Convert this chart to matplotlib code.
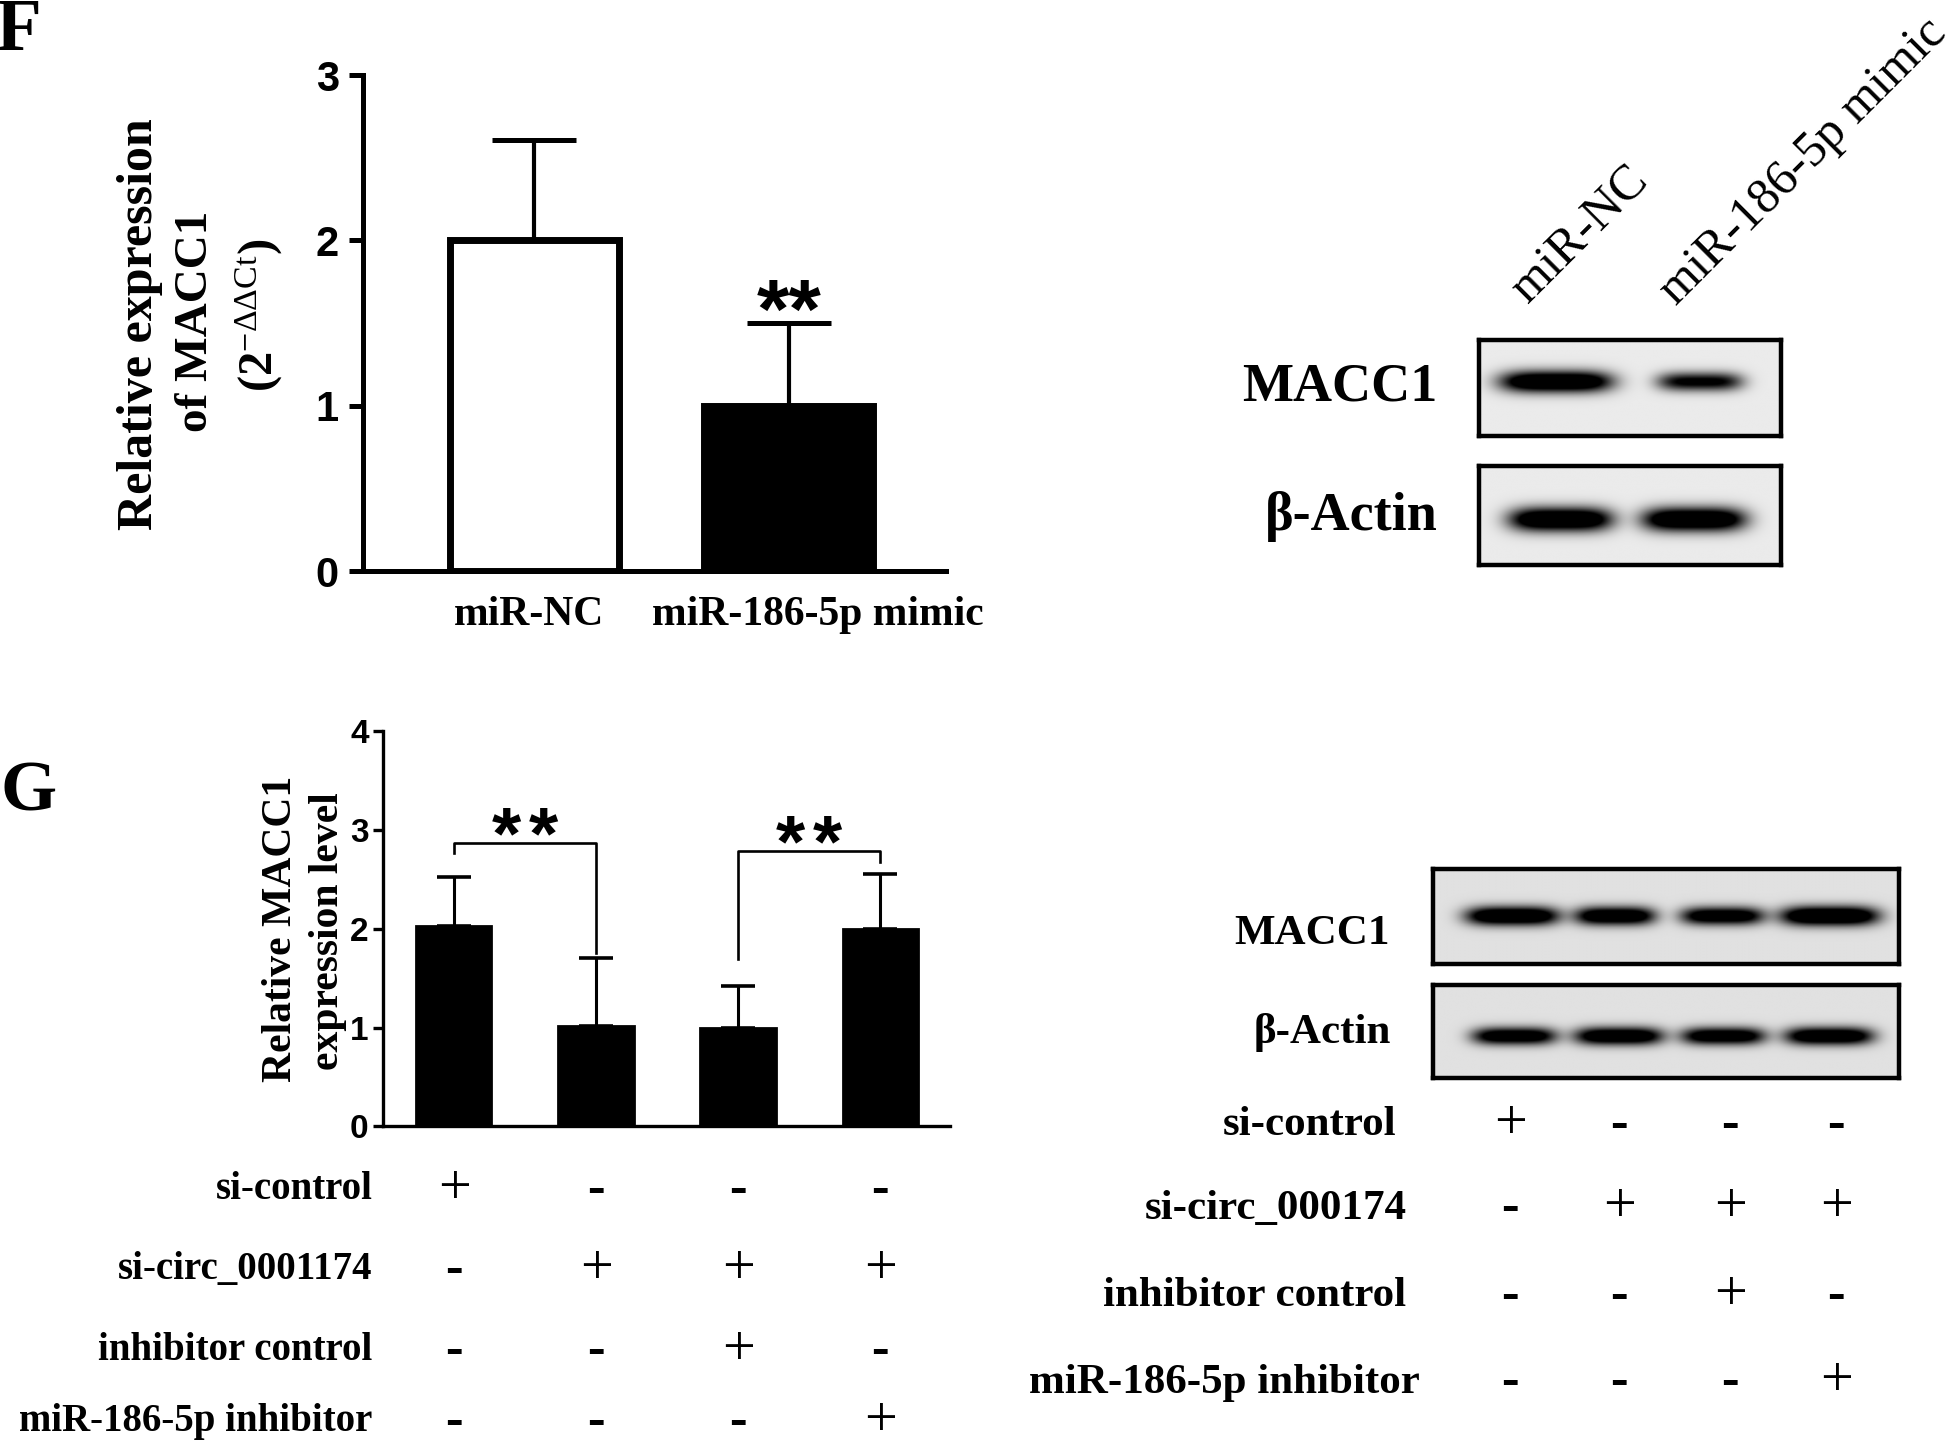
import numpy as np
import matplotlib
matplotlib.use('Agg')
import matplotlib.pyplot as plt
import matplotlib.transforms as mtransforms

plt.rcParams['font.family'] = ['Liberation Serif', 'DejaVu Serif']
plt.rcParams['mathtext.fontset'] = 'custom'
plt.rcParams['mathtext.rm'] = 'Liberation Serif'
plt.rcParams['mathtext.it'] = 'Liberation Serif:italic'
plt.rcParams['mathtext.bf'] = 'Liberation Serif:bold'

# ---- panel F: qPCR ----
f_groups = ['miR-NC', 'miR-186-5p mimic']
f_means = [2.0, 1.0]
f_errs = [0.61, 0.50]
f_fill = ['white', 'black']

# ---- panel G: qPCR ----
g_means = [2.03, 1.02, 1.00, 2.00]
g_errs = [0.50, 0.69, 0.42, 0.56]
# brackets: (left bar, right bar, top, left end, right end)
g_brackets = [(1, 2, 2.87, 2.77, 1.76), (3, 4, 2.79, 1.70, 2.68)]

g_rows = ['si-control', 'si-circ_0001174', 'inhibitor control', 'miR-186-5p inhibitor']
wb_rows = ['si-control', 'si-circ_000174', 'inhibitor control', 'miR-186-5p inhibitor']
g_signs = [[1, 0, 0, 0],
           [0, 1, 1, 1],
           [0, 0, 1, 0],
           [0, 0, 0, 1]]

# ---- western blot band densities ----
f_lanes = ['miR-NC', 'miR-186-5p mimic']
f_macc1 = [1.0, 0.72]
f_actin = [1.0, 1.0]
g_macc1 = [0.95, 0.9, 0.85, 1.0]
g_actin = [0.85, 0.9, 0.85, 0.9]

W, H = 1568.0, 1155.0   # layout grid (reference shrunk size)

fig = plt.figure(figsize=(19.6, 14.44), dpi=100)


def box(x0, y0, x1, y1):
    return [x0 / W, 1 - y1 / H, (x1 - x0) / W, (y1 - y0) / H]


def put(x, y, s, **kw):
    return fig.text(x / W, 1 - y / H, s, **kw)


def blot(rect, cx, hw, dens, cy, th, bg=0.88):
    ax = fig.add_axes(rect)
    yy, xx = np.mgrid[0:1:160j, 0:1:600j]
    img = np.full(xx.shape, bg)
    for c, w, d in zip(cx, hw, dens):
        t = th * (0.55 + 0.45 * d)
        img -= 1.4 * d * np.exp(-np.abs((xx - c) / w) ** 4) * np.exp(-((yy - cy) / t) ** 2)
    ax.imshow(np.clip(img, 0, 1), cmap='gray', vmin=0, vmax=1, aspect='auto',
              extent=[0, 1, 1, 0], interpolation='bilinear')
    ax.set_xticks([])
    ax.set_yticks([])
    for s in ax.spines.values():
        s.set_linewidth(3.2)
    return ax


def sign(x, y, on, **kw):
    # mathtext boxes hug the glyph, so both signs centre on the row
    if on:
        return fig.text(x, y, r'$+$', ha='center', va='center', fontsize=42, **kw)
    return fig.text(x, y, '$\\mathbf{\u2010}$', ha='center', va='center', fontsize=38, **kw)


sans = dict(family=['Liberation Sans', 'DejaVu Sans'], weight='bold')

# ================= F bar chart =================
axf = fig.add_axes(box(290, 60, 757, 457))
xf = np.arange(1, len(f_means) + 1)
axf.bar(xf, f_means, width=0.665, color=f_fill, edgecolor='black', linewidth=5, zorder=3)
axf.errorbar(xf, f_means, yerr=[[0] * len(f_errs), f_errs], fmt='none', ecolor='black',
             elinewidth=3, capsize=30, capthick=3.6, zorder=2)
axf.set_xlim(0.324, 2.619)
axf.set_ylim(0, 3)
axf.set_yticks([0, 1, 2, 3])
axf.set_xticks([])
for s in ['top', 'right']:
    axf.spines[s].set_visible(False)
for s in ['left', 'bottom']:
    axf.spines[s].set_linewidth(3.6)
axf.tick_params(axis='y', length=10, width=3.6, pad=7, labelsize=30)
for t in axf.get_yticklabels():
    t.set_fontfamily(sans['family'])
    t.set_fontweight('bold')
axf.text(2, 1.41, '**', ha='center', va='baseline', fontsize=60, **sans)

for x, lab in zip([423, 654], f_groups):
    put(x, 492, lab, ha='center', va='center', fontsize=30, weight='bold')

put(-3, 40, 'F', fontsize=54, weight='bold', ha='left', va='baseline')
put(112, 259, 'Relative expression', rotation=90, ha='center', va='center',
    fontsize=36, weight='bold')
put(157, 257, 'of MACC1', rotation=90, ha='center', va='center', fontsize=34, weight='bold')
put(207, 252, r'(2$^{\mathrm{-ΔΔCt}}$)', rotation=90, ha='center', va='center', fontsize=35,
    weight='bold')

# F western blot
blot(box(1183, 272, 1425, 349), [0.255, 0.73], [0.185, 0.14], f_macc1, 0.44, 0.11, bg=0.92)
blot(box(1183, 373, 1425, 452), [0.27, 0.71], [0.17, 0.17], f_actin, 0.54, 0.12, bg=0.92)
put(1150, 320, 'MACC1', ha='right', va='baseline', fontsize=39, weight='bold')
put(1150, 424, 'β-Actin', ha='right', va='baseline', fontsize=39, weight='bold')
for (x0, y0), lab in zip([(1222, 243), (1341, 245)], f_lanes):
    put(x0, y0, lab, rotation=45, rotation_mode='anchor', ha='left', va='baseline',
        fontsize=36)

# ================= G bar chart =================
axg = fig.add_axes(box(306, 585, 760, 901))
xg = np.arange(1, len(g_means) + 1)
axg.bar(xg, g_means, width=0.53, color='black', edgecolor='black', linewidth=2, zorder=3)
axg.errorbar(xg, g_means, yerr=[[0] * len(g_errs), g_errs], fmt='none', ecolor='black',
             elinewidth=2.2, capsize=12, capthick=2.6, zorder=2)
axg.set_xlim(0.50, 4.49)
axg.set_ylim(0, 4)
axg.set_yticks([0, 1, 2, 3, 4])
axg.set_xticks([])
for s in ['top', 'right']:
    axg.spines[s].set_visible(False)
for s in ['left', 'bottom']:
    axg.spines[s].set_linewidth(2.4)
axg.tick_params(axis='y', length=7, width=2.4, pad=3, labelsize=24)
for t in axg.get_yticklabels():
    t.set_fontfamily(sans['family'])
    t.set_fontweight('bold')

for a, b, top, ya, yb in g_brackets:
    axg.plot([a, a, b, b], [ya, top, top, yb], color='black', lw=1.9, clip_on=False,
             solid_joinstyle='round')
    mid = (a + b) / 2
    for dx in (-0.13, 0.13):
        axg.text(mid + dx, top - 0.31, '*', ha='center', va='bottom', fontsize=54,
                 clip_on=False, **sans)

put(0, 648, 'G', fontsize=52, weight='bold', ha='left', va='baseline')
put(225, 743, 'Relative MACC1', rotation=90, ha='center', va='center', fontsize=30,
    weight='bold')
put(262, 745, 'expression level', rotation=90, ha='center', va='center', fontsize=30,
    weight='bold')

# treatment table under G
tg = mtransforms.blended_transform_factory(axg.transData, fig.transFigure)
g_row_y = [950, 1014, 1079, 1136]
for lab, signs, y in zip(g_rows, g_signs, g_row_y):
    put(298, y + 9, lab, ha='right', va='baseline', fontsize=28, weight='bold')
    for x, s in zip(xg, signs):
        sign(x, 1 - y / H, s, transform=tg)

# G western blot
blot(box(1146, 695, 1519, 771), [0.17, 0.39, 0.62, 0.85], [0.10, 0.086, 0.089, 0.105],
     g_macc1, 0.50, 0.10)
blot(box(1146, 788, 1519, 862), [0.174, 0.398, 0.622, 0.849], [0.09, 0.095, 0.09, 0.095],
     g_actin, 0.55, 0.10)
put(1112, 755, 'MACC1', ha='right', va='baseline', fontsize=31, weight='bold')
put(1113, 834, 'β-Actin', ha='right', va='baseline', fontsize=31, weight='bold')

wb_lane_x = [1208, 1295, 1384, 1469]
wb_row_y = [898, 965, 1035, 1104]
wb_label_x = [1117, 1125, 1125, 1136]
for lab, signs, y, lx in zip(wb_rows, g_signs, wb_row_y, wb_label_x):
    put(lx, y + 10, lab, ha='right', va='baseline', fontsize=31, weight='bold')
    for x, s in zip(wb_lane_x, signs):
        sign(x / W, 1 - y / H, s)

fig.savefig('out.png', dpi=100, facecolor='white')
